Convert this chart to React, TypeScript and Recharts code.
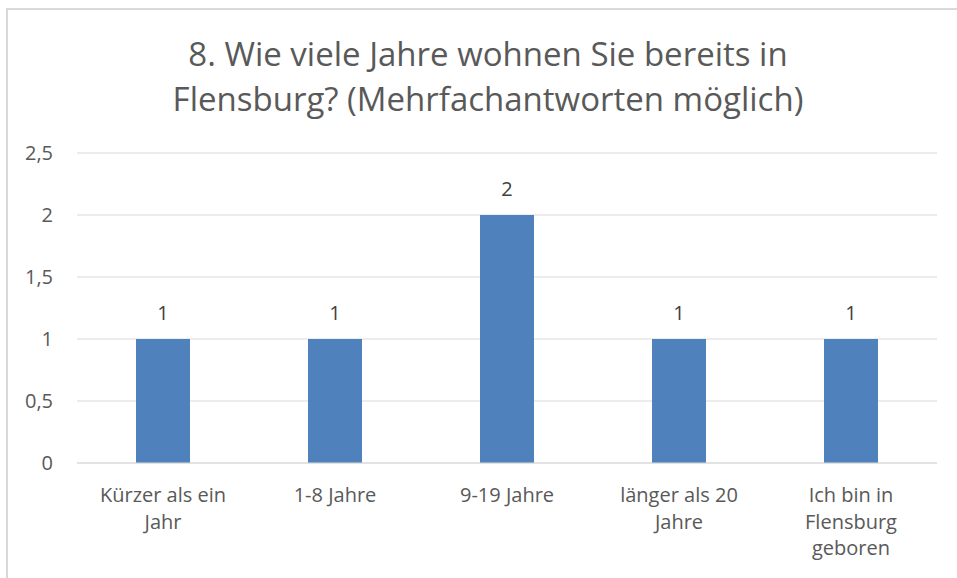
import { Bar, BarChart, CartesianGrid, LabelList, XAxis, YAxis } from "recharts";

const categories: string[] = [
  "Kürzer als ein Jahr",
  "1-8 Jahre",
  "9-19 Jahre",
  "länger als 20 Jahre",
  "Ich bin in Flensburg geboren",
];

// how the axis labels wrap in the original
const categoryLines: string[][] = [
  ["Kürzer als ein", "Jahr"],
  ["1-8 Jahre"],
  ["9-19 Jahre"],
  ["länger als 20", "Jahre"],
  ["Ich bin in", "Flensburg", "geboren"],
];

const counts: number[] = [1, 1, 2, 1, 1];

const yTicks: number[] = [0, 0.5, 1, 1.5, 2, 2.5];

const titleLines: string[] = [
  "8. Wie viele Jahre wohnen Sie bereits in",
  "Flensburg? (Mehrfachantworten möglich)",
];

const data = categories.map((name, i) => ({ name, lines: categoryLines[i], value: counts[i] }));

const FONT = "'Open Sans', Carlito, Calibri, sans-serif";

interface TickProps {
  x?: number;
  y?: number;
  index?: number;
}

function CategoryTick({ x = 0, y = 0, index = 0 }: TickProps) {
  const lines = categoryLines[index] || [];
  return (
    <g transform={`translate(${x},${y})`}>
      {lines.map((line, i) => (
        <text
          key={i}
          x={0}
          y={31 + i * 26.5}
          textAnchor="middle"
          fill="#595959"
          fontSize={20}
          fontFamily={FONT}
        >
          {line}
        </text>
      ))}
    </g>
  );
}

export default function App() {
  return (
    <div style={{ position: "absolute", left: 0, top: 0, width: 957, height: 578, overflow: "hidden", background: "#fff" }}>
      <div
        style={{
          position: "absolute",
          left: 6,
          top: 8,
          width: 1000,
          height: 600,
          borderLeft: "2px solid #d9d9d9",
          borderTop: "2px solid #d9d9d9",
        }}
      />
      <div
        style={{
          position: "absolute",
          left: 0,
          width: 976,
          top: 31,
          textAlign: "center",
          fontFamily: FONT,
          fontSize: 33,
          lineHeight: "45px",
          color: "#595959",
        }}
      >
        {titleLines.map((t, i) => (
          <div key={i}>{t}</div>
        ))}
      </div>
      <div style={{ position: "absolute", left: 0, top: 0 }}>
        <BarChart
          width={957}
          height={578}
          data={data}
          margin={{ top: 153, right: 20, bottom: 0, left: 0 }}
          barCategoryGap={59}
        >
          <CartesianGrid stroke="#d9d9d9" vertical={false} />
          <XAxis
            dataKey="name"
            interval={0}
            tick={<CategoryTick />}
            tickLine={false}
            axisLine={{ stroke: "#d9d9d9" }}
            height={115}
          />
          <YAxis
            width={77}
            domain={[0, 2.5]}
            ticks={yTicks}
            interval={0}
            tickFormatter={(v) => String(v).replace(".", ",")}
            tick={{ fill: "#595959", fontSize: 20, fontFamily: FONT }}
            tickLine={false}
            axisLine={false}
            tickMargin={18}
          />
          <Bar dataKey="value" fill="#4f81bd" isAnimationActive={false}>
            <LabelList dataKey="value" position="top" offset={19} fill="#404040" fontSize={20} fontFamily={FONT} />
          </Bar>
        </BarChart>
      </div>
    </div>
  );
}
